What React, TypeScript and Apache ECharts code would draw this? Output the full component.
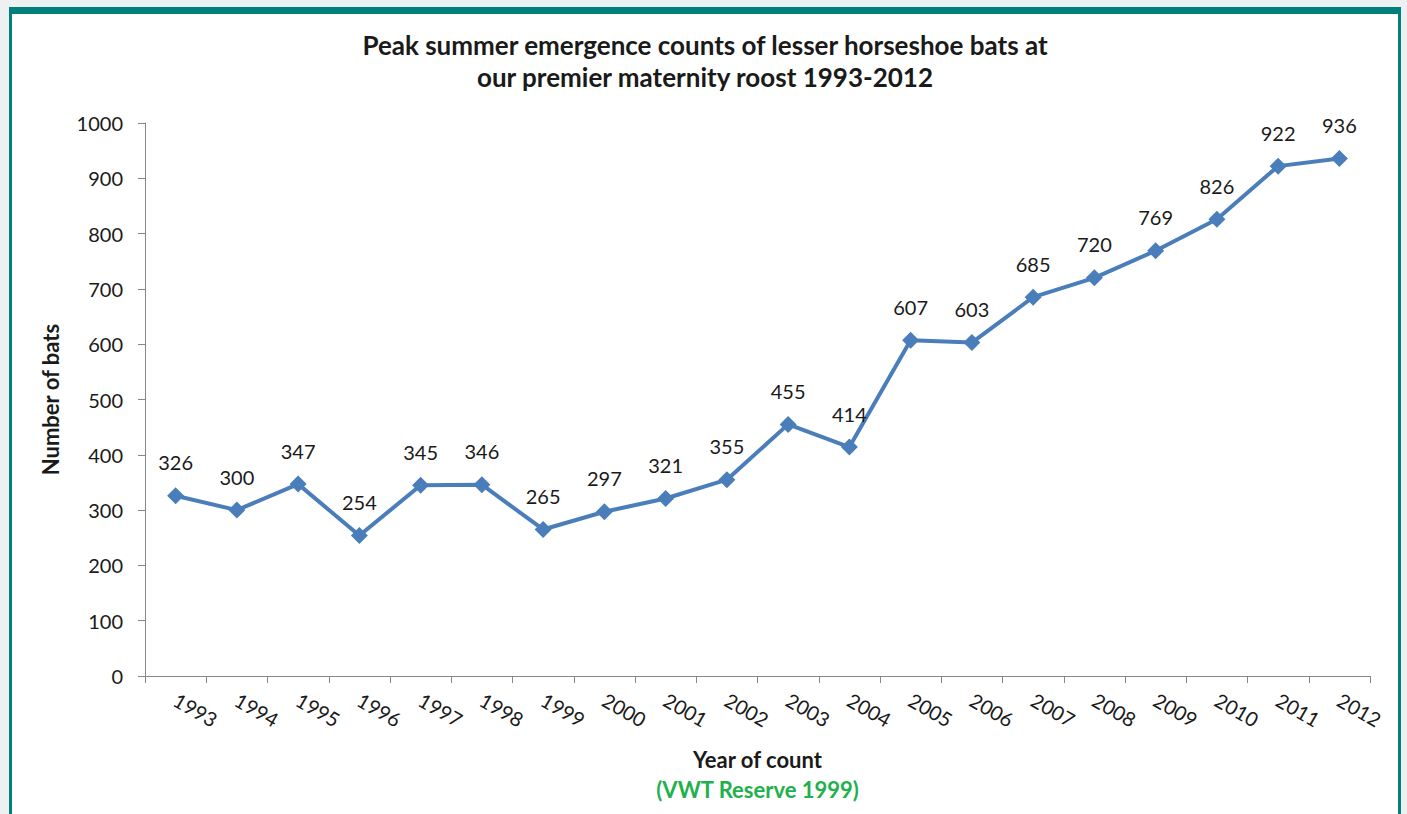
import React, { useEffect, useRef } from "react";
import * as echarts from "echarts";

const years = ["1993","1994","1995","1996","1997","1998","1999","2000","2001","2002","2003","2004","2005","2006","2007","2008","2009","2010","2011","2012"];
const counts = [326, 300, 347, 254, 345, 346, 265, 297, 321, 355, 455, 414, 607, 603, 685, 720, 769, 826, 922, 936];
const titleLines = ["Peak summer emergence counts of lesser horseshoe bats at", "our premier maternity roost 1993-2012"];
const xName = "Year of count";
const xSubName = "(VWT Reserve 1999)";
const yName = "Number of bats";

const FONT = "Lato, 'Noto Sans', sans-serif";
const TEXT = "#1a1a1a";
const AXIS = "#878787";
const BLUE = "#4a7ebb";

export default function App() {
  const ref = useRef<HTMLDivElement>(null);
  useEffect(() => {
    if (!ref.current) return;
    const chart = echarts.init(ref.current, null, { renderer: "svg" });
    chart.setOption({
      animation: false,
      backgroundColor: "transparent",
      textStyle: { fontFamily: FONT },
      title: {
        text: titleLines.join("\n"),
        left: 700,
        textAlign: "center",
        top: 24,
        textStyle: { fontFamily: FONT, fontSize: 26, fontWeight: "bold", color: TEXT, lineHeight: 32 },
      },
      grid: { left: 145, right: 37, top: 123, bottom: 138, containLabel: false },
      xAxis: {
        type: "category",
        data: years,
        boundaryGap: true,
        name: `{a|${xName}}\n{b|${xSubName}}`,
        nameLocation: "middle",
        nameGap: 68,
        nameTextStyle: {
          rich: {
            a: { fontFamily: FONT, fontSize: 22, fontWeight: "bold", color: TEXT, lineHeight: 30 },
            b: { fontFamily: FONT, fontSize: 22, fontWeight: "bold", color: "#22b04c", lineHeight: 30 },
          },
        },
        axisLine: { lineStyle: { color: AXIS, width: 1 } },
        axisTick: { show: true, alignWithLabel: false, length: 7, lineStyle: { color: AXIS } },
        axisLabel: { rotate: -30, fontSize: 20, color: TEXT, fontFamily: FONT, margin: 22, interval: 0 },
        splitLine: { show: false },
      },
      yAxis: {
        type: "value",
        min: 0,
        max: 1000,
        interval: 100,
        name: yName,
        nameLocation: "middle",
        nameRotate: 90,
        nameGap: 84,
        nameTextStyle: { fontFamily: FONT, fontSize: 22, fontWeight: "bold", color: TEXT },
        axisLine: { show: true, lineStyle: { color: AXIS, width: 1 } },
        axisTick: { show: true, length: 7, lineStyle: { color: AXIS } },
        axisLabel: { fontSize: 20, color: TEXT, fontFamily: FONT, margin: 22, formatter: (v: number) => String(v) },
        splitLine: { show: false },
      },
      series: [
        {
          type: "line",
          data: counts,
          symbol: "diamond",
          symbolSize: 17,
          lineStyle: { color: BLUE, width: 4 },
          itemStyle: { color: BLUE },
          label: { show: true, position: "top", distance: 15, fontSize: 20, color: TEXT, fontFamily: FONT },
        },
      ],
    });
    return () => chart.dispose();
  }, []);
  return (
    <div style={{ position: "fixed", left: 0, top: 0, width: 1407, height: 814, background: "#edf1f1", overflow: "hidden" }}>
      <div
        style={{
          position: "absolute",
          left: 9,
          top: 7,
          width: 1392,
          height: 820,
          background: "#ffffff",
          borderTop: "7px solid #00807a",
          borderLeft: "3px solid #00807a",
          borderRight: "3px solid #00807a",
          boxSizing: "border-box",
        }}
      />
      <div ref={ref} style={{ position: "absolute", left: 0, top: 0, width: 1407, height: 814 }} />
    </div>
  );
}
